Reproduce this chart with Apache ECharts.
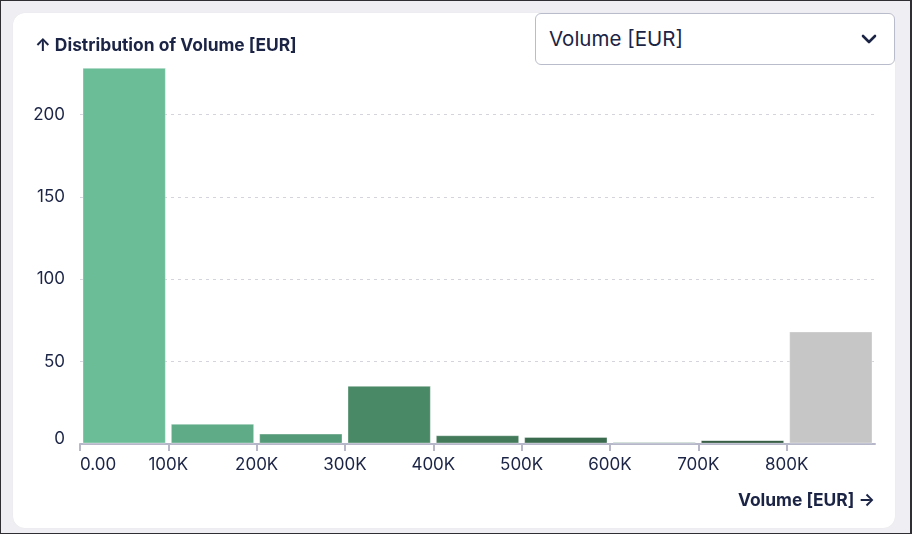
<!DOCTYPE html>
<html>
<head>
<meta charset="utf-8">
<script src="https://cdn.jsdelivr.net/npm/echarts@6/dist/echarts.min.js"></script>
<style>
  html, body { margin: 0; padding: 0; }
  body { width: 912px; height: 534px; overflow: hidden; font-family: Inter, "Noto Sans", sans-serif; }
  #frame { position: absolute; left: 0; top: 0; width: 912px; height: 534px; box-sizing: border-box;
           border: 1px solid #2e2e33; border-right-width: 2px; background: #efeef3; }
  #card { position: absolute; left: 13px; top: 13px; width: 882px; height: 515px; background: #fff;
          border-radius: 12px; box-shadow: 0 0 1px rgba(0,0,0,0.08); }
  #chart { position: absolute; left: 0; top: 0; width: 912px; height: 534px; }
  #select { position: absolute; left: 535px; top: 13px; width: 360px; height: 52px; box-sizing: border-box;
            border: 1px solid #b9bccb; border-radius: 6px; background: #fff; color: #1b2445;
            font-size: 20.5px; line-height: 50px; padding-left: 13px; }
  #select svg { position: absolute; right: 17px; top: 19px; }
</style>
</head>
<body>
<div id="frame"></div>
<div id="card"></div>
<div id="chart"></div>
<div id="select">Volume [EUR]<svg width="16" height="12" viewBox="0 0 16 12"><path d="M2 3 L8 9 L14 3" fill="none" stroke="#1b2445" stroke-width="2.6" stroke-linecap="round" stroke-linejoin="round"/></svg></div>
<script>
const binStarts = [0, 100000, 200000, 300000, 400000, 500000, 600000, 700000, 800000];
const binEnds   = [100000, 200000, 300000, 400000, 500000, 600000, 700000, 800000, 900000];
const counts    = [228, 12, 6, 35, 5, 4, 1, 2, 68];
const barColors = ['#6bbd98', '#5fab88', '#549a78', '#4a8966', '#427a5a', '#3a6b4e', '#9fbcad', '#2b5439', '#c6c6c6'];
const xTicks = [0, 100000, 200000, 300000, 400000, 500000, 600000, 700000, 800000];
const yTicks = [0, 50, 100, 150, 200];
const titleText = '↑ Distribution of Volume [EUR]';
const xName = 'Volume [EUR] →';

const ink = '#1b2445';
const data = binStarts.map((s, i) => ({ value: [s, binEnds[i], counts[i]], itemStyle: { color: barColors[i] } }));

const chart = echarts.init(document.getElementById('chart'), null, { renderer: 'canvas' });
chart.setOption({
  animation: false,
  textStyle: { fontFamily: 'Inter' },
  title: [
    { text: titleText, left: 35, top: 37, padding: 0, textStyle: { fontFamily: 'Inter', fontSize: 17.4, fontWeight: 'bold', color: ink } },
    { text: xName, right: 37, top: 492, padding: 0, textStyle: { fontFamily: 'Inter', fontSize: 17.4, fontWeight: 'bold', color: ink } }
  ],
  grid: { left: 80, right: 37, top: 65, bottom: 90, containLabel: false },
  xAxis: {
    type: 'value', min: 0, max: 900000, interval: 100000,
    axisLine: { show: true, lineStyle: { color: '#b6b8ca', width: 2 } },
    axisTick: { show: true, length: 7, lineStyle: { color: '#b6b8ca', width: 2 }, customValues: xTicks },
    axisLabel: {
      customValues: xTicks, alignMinLabel: 'left', margin: 12,
      fontFamily: 'Inter', fontSize: 17, color: ink,
      formatter: v => v === 0 ? '0.00' : (v / 1000) + 'K'
    },
    splitLine: { show: false }
  },
  yAxis: {
    type: 'value', min: 0, max: 230, interval: 50,
    axisLine: { show: false },
    axisTick: { show: false, customValues: yTicks },
    axisLabel: {
      customValues: yTicks, margin: 15, fontFamily: 'Inter', fontSize: 17, color: ink,
      formatter: v => v === 0 ? '{z|0}' : String(v),
      rich: { z: { fontFamily: 'Inter', fontSize: 17, color: ink, padding: [0, 0, 11, 0] } }
    },
    splitLine: { show: true, lineStyle: { color: '#d3d4dc', type: [3, 4], width: 1 } }
  },
  series: [{
    type: 'custom',
    encode: { x: [0, 1], y: 2 },
    data: data,
    renderItem: function (params, api) {
      const p0 = api.coord([api.value(0), api.value(2)]);
      const p1 = api.coord([api.value(1), 0]);
      const inset = 3;
      return {
        type: 'rect',
        shape: { x: p0[0] + inset, y: p0[1], width: p1[0] - p0[0] - 2 * inset, height: p1[1] - p0[1] - 1 },
        style: { fill: api.visual('color'), stroke: 'rgba(255,255,255,0.35)', lineWidth: 1 }
      };
    }
  }]
});
</script>
</body>
</html>
